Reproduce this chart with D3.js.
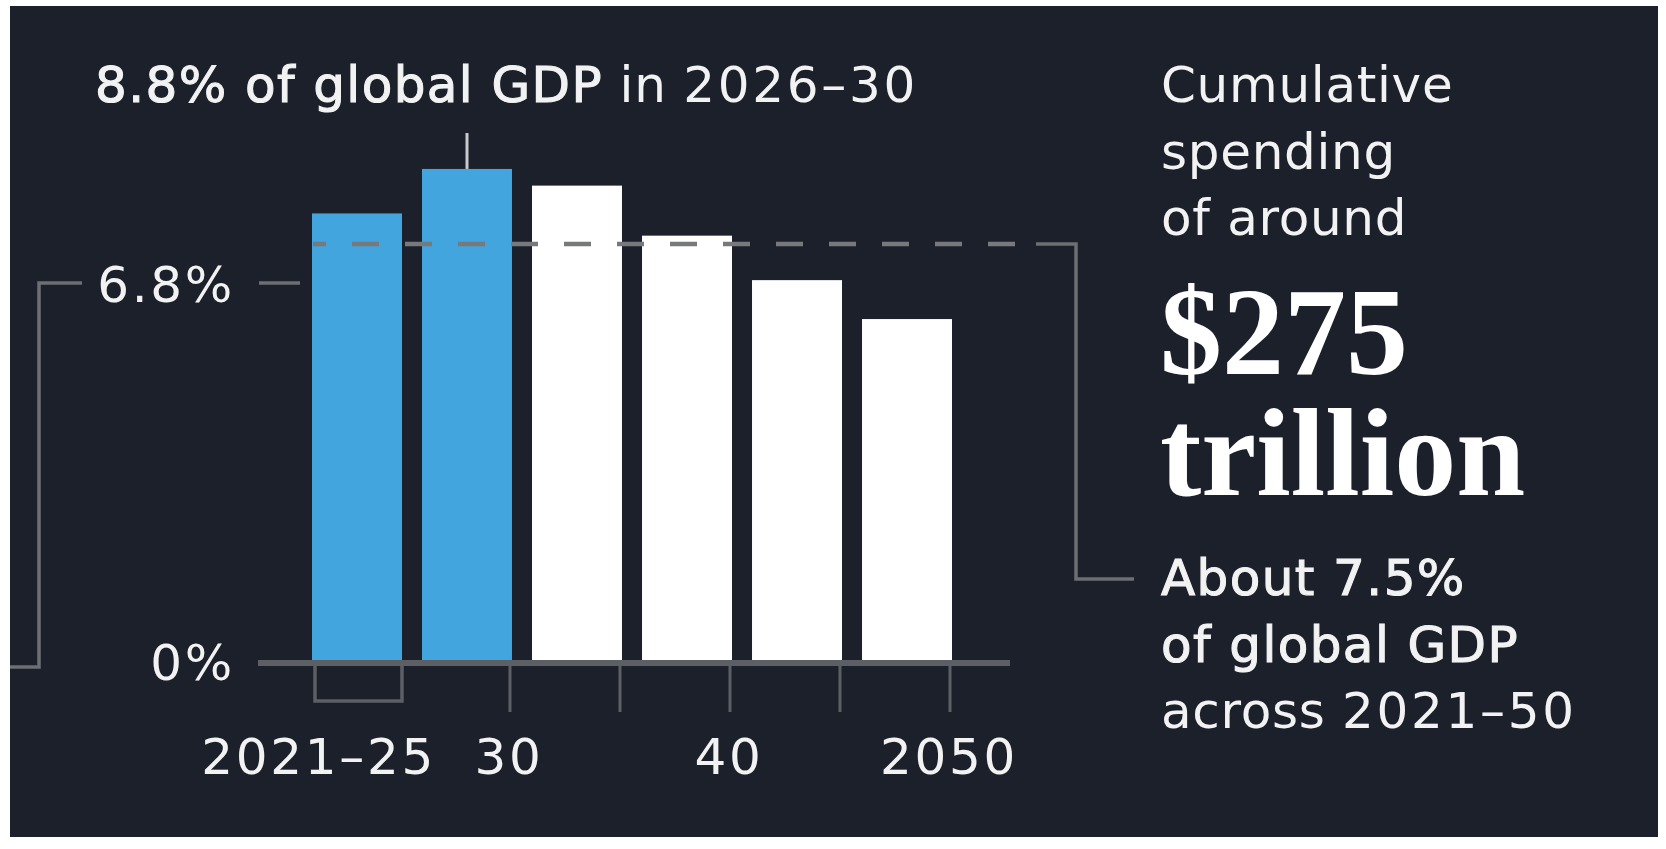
<!DOCTYPE html>
<html>
<head>
<meta charset="utf-8">
<script src="https://cdn.jsdelivr.net/npm/d3@7"></script>
<style>
  html, body { margin: 0; padding: 0; background: #ffffff; }
  svg { display: block; }
  .sans { font-family: "DejaVu Sans", sans-serif; font-size: 50px; letter-spacing: 0.7px; fill: #f2f2f2; }
  .med { stroke: #f2f2f2; stroke-width: 1.1px; letter-spacing: 1.4px; }
  .num { letter-spacing: 2.7px; }
  .serif { font-family: "Liberation Serif", serif; font-weight: bold; font-size: 124px; fill: #ffffff; }
</style>
</head>
<body>
<svg id="chart" width="1666" height="849"></svg>
<script>
// ---- data ----
const categories = ["2021–25", "2026–30", "2031–35", "2036–40", "2041–45", "2046–50"];
const values = [8.05, 8.85, 8.55, 7.65, 6.85, 6.15];       // % of global GDP
const highlighted = ["2021–25", "2026–30"];
const tickLabels = ["30", "", "40", "", "2050"];           // ticks after bars 2..6
const yRefValues = [0, 6.8];
const yRefLabels = ["0%", "6.8%"];
const averageValue = 7.5;
const titleBold = "8.8% of global GDP";
const titleRest = " in ";
const titlePeriod = "2026–30";
const rightTop = ["Cumulative", "spending", "of around"];
const bigFigure = ["$275", "trillion"];
const rightBottomMed = ["About 7.5%", "of global GDP"];
const rightBottomReg = ["across ", "2021–50"];

// ---- setup ----
const svg = d3.select("#chart");
const BG = "#1b202b", BLUE = "#42a5de", WHITE = "#ffffff", GREY = "#6c6f74", AXIS = "#5c5f64";

svg.append("rect").attr("x", 10).attr("y", 6).attr("width", 1648).attr("height", 831).attr("fill", BG);

const x = d3.scaleBand().domain(categories).range([312, 952]).paddingInner(0.182).paddingOuter(0);
const y = d3.scaleLinear().domain([0, 9]).range([661, 661 - 9 * 55.6]);
const bw = x.bandwidth();

// bars
svg.append("g").selectAll("rect").data(categories).join("rect")
  .attr("x", d => x(d))
  .attr("y", (d, i) => y(values[i]))
  .attr("width", bw)
  .attr("height", (d, i) => y(0) - y(values[i]))
  .attr("fill", d => highlighted.includes(d) ? BLUE : WHITE);

// baseline
svg.append("line").attr("x1", 258).attr("x2", 1010).attr("y1", y(0) + 2).attr("y2", y(0) + 2)
  .attr("stroke", AXIS).attr("stroke-width", 6);

// x ticks (after bars 2..6)
const tickCats = categories.slice(1);
svg.append("g").selectAll("line").data(tickCats).join("line")
  .attr("x1", d => x(d) + bw - 2).attr("x2", d => x(d) + bw - 2)
  .attr("y1", y(0) + 5).attr("y2", y(0) + 51)
  .attr("stroke", AXIS).attr("stroke-width", 3);
svg.append("g").selectAll("text").data(tickCats).join("text")
  .attr("class", "sans num")
  .attr("x", d => x(d) + bw - 3).attr("y", 774)
  .attr("text-anchor", "middle")
  .text((d, i) => tickLabels[i]);

// bracket under first bar
const c0 = categories[0];
svg.append("path")
  .attr("d", `M${x(c0) + 3},${y(0) + 5} V${y(0) + 40} H${x(c0) + bw} V${y(0) + 5}`)
  .attr("fill", "none").attr("stroke", AXIS).attr("stroke-width", 3.5);
svg.append("text").attr("class", "sans num")
  .attr("x", x(c0) + bw + 34).attr("y", 774).attr("text-anchor", "end").text(c0);

// y reference labels
svg.append("g").selectAll("text").data(yRefValues).join("text")
  .attr("class", "sans num")
  .attr("x", 235).attr("y", d => y(d) + 19)
  .attr("text-anchor", "end")
  .text((d, i) => yRefLabels[i]);
// dash after 6.8%
svg.append("line").attr("x1", 259).attr("x2", 300).attr("y1", y(yRefValues[1])).attr("y2", y(yRefValues[1]))
  .attr("stroke", GREY).attr("stroke-width", 3.5);
// left bracket
svg.append("path")
  .attr("d", `M82,${y(yRefValues[1])} H39 V${y(0) + 6} H10`)
  .attr("fill", "none").attr("stroke", GREY).attr("stroke-width", 3.5);

// average dashed line and bracket to the right
const ya = y(averageValue);
svg.append("line").attr("x1", x(c0) + 1).attr("x2", 1036).attr("y1", ya).attr("y2", ya)
  .attr("stroke", "#77797d").attr("stroke-width", 4.5)
  .attr("stroke-dasharray", "27 26").attr("stroke-dashoffset", 14);
svg.append("path")
  .attr("d", `M1036,${ya} H1076 V579 H1134`)
  .attr("fill", "none").attr("stroke", GREY).attr("stroke-width", 3.5);

// title pointer
const c1 = categories[1];
svg.append("line").attr("x1", x(c1) + bw / 2).attr("x2", x(c1) + bw / 2)
  .attr("y1", 133).attr("y2", y(values[1]))
  .attr("stroke", "#c9cacc").attr("stroke-width", 3);

// title
const title = svg.append("text").attr("class", "sans").attr("x", 95).attr("y", 102);
title.append("tspan").attr("class", "med").text(titleBold);
title.append("tspan").text(titleRest);
title.append("tspan").attr("class", "num").text(titlePeriod);

// right column
svg.append("g").selectAll("text").data(rightTop).join("text")
  .attr("class", "sans").attr("x", 1161).attr("y", (d, i) => 102 + i * 66.5).text(d => d);

const big = svg.append("text").attr("class", "serif").attr("x", 1160).attr("y", 374);
big.selectAll("tspan").data(bigFigure).join("tspan")
  .attr("x", 1160).attr("dy", (d, i) => i === 0 ? 0 : 121).text(d => d);

svg.append("g").selectAll("text").data(rightBottomMed).join("text")
  .attr("class", "sans med").attr("x", 1161).attr("y", (d, i) => 595 + i * 66.5).text(d => d);
const across = svg.append("text").attr("class", "sans").attr("x", 1161).attr("y", 728);
across.append("tspan").text(rightBottomReg[0]);
across.append("tspan").attr("class", "num").text(rightBottomReg[1]);
</script>
</body>
</html>
